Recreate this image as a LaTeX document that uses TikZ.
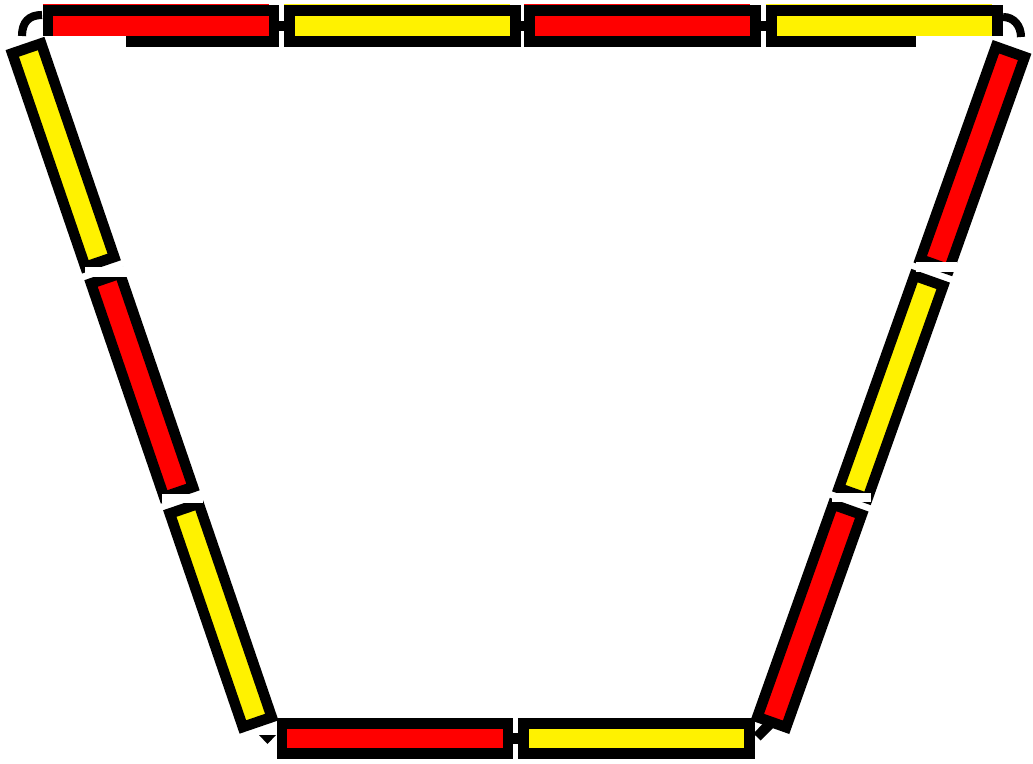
\documentclass[tikz,border=0pt]{standalone}
\usetikzlibrary{calc}

\begin{document}
\begin{tikzpicture}[x=0.01cm,y=-0.01cm,
    bar/.style={draw=black,line width=3pt,inner sep=0pt,outer sep=0pt,minimum width=2.255cm,minimum height=0.305cm},
    redbar/.style={bar,fill=red},
    yellowbar/.style={bar,fill=yellow},
    link/.style={line width=2.9pt},
    hook/.style={line width=2.3pt},
    blank/.style={fill=white}]
    \useasboundingbox (0,0) rectangle (1033,764);

    \node[redbar] (t1) at (161,26) {};
    \node[yellowbar] (t2) at (402.5,26) {};
    \node[redbar] (t3) at (642.5,26) {};
    \node[yellowbar] (t4) at (884.5,26) {};
    \foreach \a/\b in {t1/t2,t2/t3,t3/t4}
      \draw[link] (\a.east) -- (\b.west);
    \foreach \n/\c in {t1/red,t2/yellow,t3/red,t4/yellow}
      \draw[\c,line width=0.4pt] ($(\n.north west)+(-5.25,-6.2)$) -- ($(\n.north east)+(-5.25,-6.2)$);
    \fill[blank] (41,36.3) rectangle (126,48);
    \fill[blank] (916,36.3) rectangle (1005,48);

    \draw[hook] (22,36) .. controls (22,22) and (29,15) .. (42,15);
    \draw[hook] (1003,17) .. controls (1014,17) and (1021,26) .. (1021,37);

    \coordinate (ltop) at (25,43.5);
    \coordinate (lbot) at (259,727);
    \node[yellowbar,rotate=-71.1] (l1) at ($(ltop)!0.1634!(lbot)$) {};
    \node[redbar,rotate=-71.1] (l2) at ($(ltop)!0.5!(lbot)$) {};
    \node[yellowbar,rotate=-71.1] (l3) at ($(ltop)!0.8366!(lbot)$) {};

    \coordinate (rtop) at (1012,47);
    \coordinate (rbot) at (770,727);
    \node[redbar,rotate=70.4] (r1) at ($(rtop)!0.1634!(rbot)$) {};
    \node[yellowbar,rotate=70.4] (r2) at ($(rtop)!0.5!(rbot)$) {};
    \node[redbar,rotate=70.4] (r3) at ($(rtop)!0.8366!(rbot)$) {};

    \fill[blank] (85,267) rectangle (127,277);
    \fill[blank] (162,494) rectangle (203,503);
    \fill[blank] (916,262) rectangle (957,272);
    \fill[blank] (832,493) rectangle (871,502);

    \node[redbar] (b1) at (395,738.5) {};
    \node[yellowbar] (b2) at (636.5,738.5) {};
    \draw[link] (b1.east) -- (b2.west);

    \coordinate (bend) at (757,737);
    \draw[link] (bend) -- (r3.west);
    \fill (259,735) -- (276,735) -- (267.5,744) -- cycle;
  \end{tikzpicture}
\end{document}
